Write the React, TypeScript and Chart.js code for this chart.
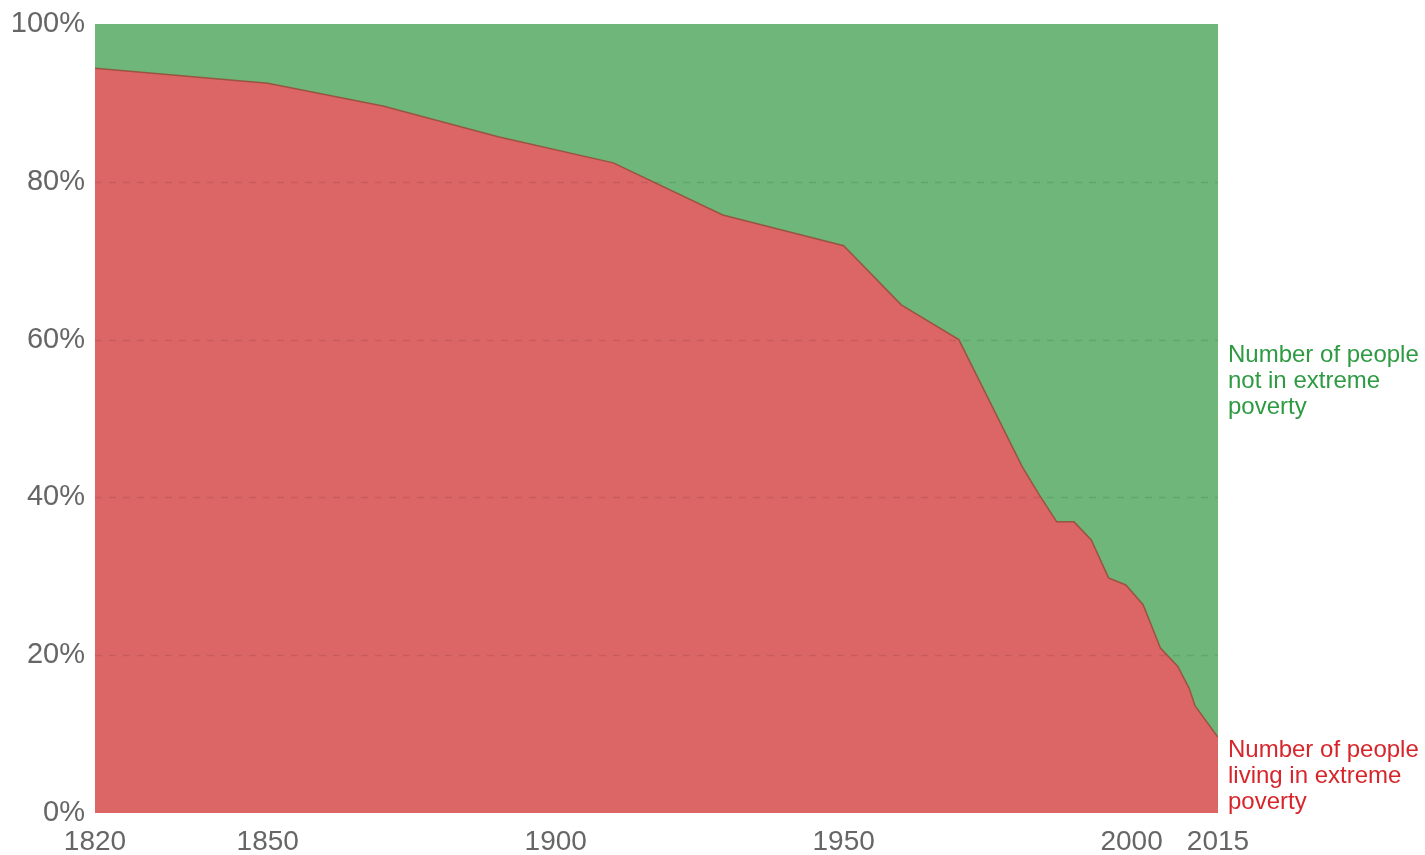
import React, { useEffect, useRef } from "react";
import { Chart, registerables } from "chart.js";

Chart.register(...registerables);

const years = [1820, 1850, 1870, 1890, 1910, 1929, 1950, 1960, 1970, 1981, 1984, 1987, 1990, 1993, 1996, 1999, 2002, 2005, 2008, 2010, 2011, 2015];
const povertyShare = [94.4, 92.5, 89.6, 85.7, 82.4, 75.8, 71.9, 64.4, 60.0, 43.9, 40.3, 36.9, 36.9, 34.6, 29.8, 28.9, 26.4, 20.9, 18.6, 15.8, 13.6, 9.6];
const xTickValues = [1820, 1850, 1900, 1950, 2000, 2015];
const yTickValues = [0, 20, 40, 60, 80, 100];
const labelNotPoor = ["Number of people", "not in extreme", "poverty"];
const labelPoor = ["Number of people", "living in extreme", "poverty"];

const GREEN = "rgb(110,182,122)";
const RED = "rgb(220,101,101)";
const FONT = "'Liberation Sans', Arial, Helvetica, sans-serif";

const bgPlugin = {
  id: "areaBg",
  beforeDatasetsDraw(chart: any) {
    const { ctx, chartArea } = chart;
    ctx.save();
    ctx.fillStyle = GREEN;
    ctx.fillRect(chartArea.left, chartArea.top, chartArea.right - chartArea.left, chartArea.bottom - chartArea.top);
    ctx.restore();
  },
};

const gridPlugin = {
  id: "gridOnTop",
  afterDatasetsDraw(chart: any) {
    const { ctx, chartArea, scales } = chart;
    ctx.save();
    ctx.strokeStyle = "rgba(0,0,0,0.09)";
    ctx.lineWidth = 1.5;
    ctx.setLineDash([7, 7]);
    yTickValues.forEach((v) => {
      if (v === 0 || v === 100) return;
      const y = Math.round(scales.y.getPixelForValue(v)) + 0.5;
      ctx.beginPath();
      ctx.moveTo(chartArea.left, y);
      ctx.lineTo(chartArea.right, y);
      ctx.stroke();
    });
    ctx.restore();
  },
};

const labelsPlugin = {
  id: "sideLabels",
  afterDraw(chart: any) {
    const { ctx, chartArea, scales } = chart;
    const x = chartArea.right + 10;
    const lh = 26;
    ctx.save();
    ctx.font = `24px ${FONT}`;
    ctx.textBaseline = "middle";
    ctx.textAlign = "left";
    ctx.fillStyle = "rgb(46,154,66)";
    const yG = scales.y.getPixelForValue(58);
    labelNotPoor.forEach((t, i) => ctx.fillText(t, x, yG + i * lh));
    ctx.fillStyle = "rgb(214,38,44)";
    const yR = scales.y.getPixelForValue(8);
    labelPoor.forEach((t, i) => ctx.fillText(t, x, yR + i * lh));
    ctx.restore();
  },
};

export default function App() {
  const ref = useRef<HTMLCanvasElement>(null);
  useEffect(() => {
    if (!ref.current) return;
    const chart = new Chart(ref.current, {
      type: "line",
      data: {
        datasets: [
          {
            data: years.map((y, i) => ({ x: y, y: povertyShare[i] })),
            fill: "origin",
            backgroundColor: RED,
            borderColor: "rgba(150,75,55,0.85)",
            borderWidth: 1.5,
            pointRadius: 0,
            tension: 0,
          },
        ],
      },
      options: {
        animation: false,
        responsive: false,
        layout: { padding: { top: 24, right: 207, left: 0, bottom: 0 } },
        plugins: { legend: { display: false }, tooltip: { enabled: false } },
        scales: {
          x: {
            type: "linear",
            min: 1820,
            max: 2015,
            grid: { display: false },
            border: { display: false },
            afterBuildTicks: (s: any) => {
              s.ticks = xTickValues.map((v) => ({ value: v }));
            },
            afterFit: (s: any) => {
              s.height = 42;
              s.paddingLeft = 0;
              s.paddingRight = 0;
            },
            ticks: {
              autoSkip: false,
              maxRotation: 0,
              padding: 4,
              color: "#666",
              font: { size: 28, family: FONT },
              callback: (v: any) => String(v),
            },
          },
          y: {
            min: 0,
            max: 100,
            afterBuildTicks: (s: any) => {
              s.ticks = yTickValues.map((v) => ({ value: v }));
            },
            afterFit: (s: any) => {
              s.width = 95;
              s.paddingTop = 0;
              s.paddingBottom = 0;
            },
            grid: { display: false, drawTicks: false, tickLength: 0 },
            border: { display: false },
            ticks: {
              padding: 10,
              color: "#666",
              font: { size: 29, family: FONT },
              callback: (v: any) => v + "%",
            },
          },
        },
      },
      plugins: [bgPlugin, gridPlugin, labelsPlugin],
    });
    return () => chart.destroy();
  }, []);
  return (
    <div style={{ position: "absolute", left: 0, top: 0, width: 1425, height: 855, background: "#fff" }}>
      <canvas ref={ref} width={1425} height={855} />
    </div>
  );
}
